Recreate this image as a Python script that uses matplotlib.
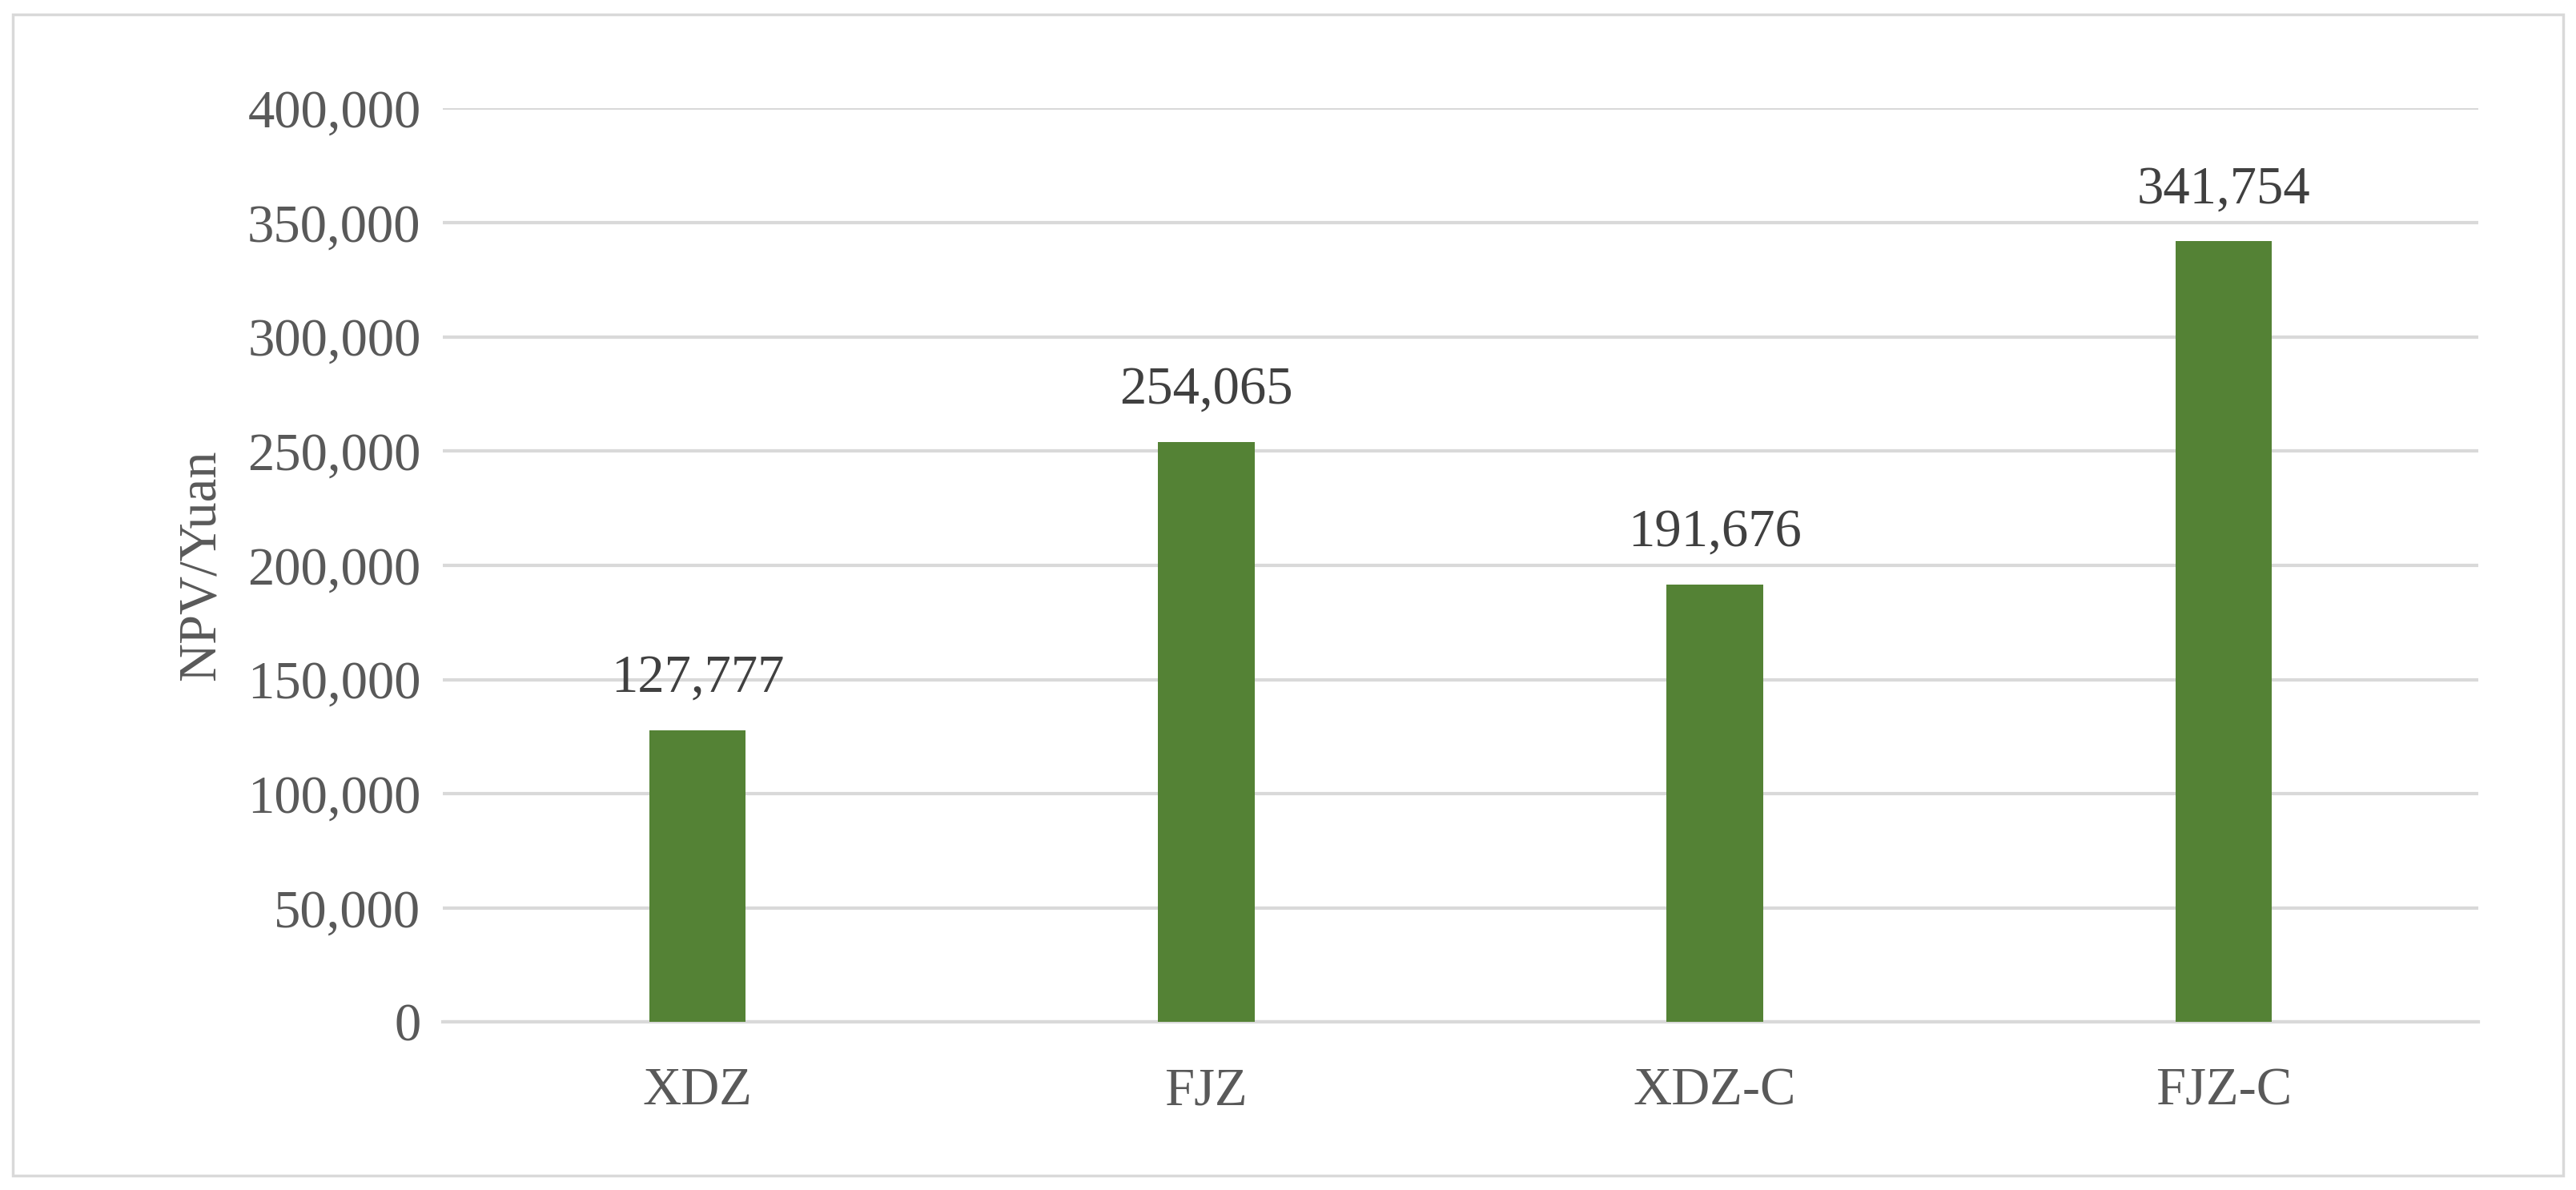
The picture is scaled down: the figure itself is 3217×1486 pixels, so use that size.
import matplotlib.pyplot as plt
from matplotlib.patches import Rectangle
from matplotlib.ticker import FuncFormatter

categories = ["XDZ", "FJZ", "XDZ-C", "FJZ-C"]
npv = [127777, 254065, 191676, 341754]

plt.rcParams["font.family"] = ["Liberation Serif", "DejaVu Serif"]

fig = plt.figure(figsize=(32.17, 14.86), dpi=100)
ax = fig.add_axes([0.172, 0.141, 0.79, 0.768])

fig.patches.append(Rectangle((0.005, 0.012), 0.99, 0.976, transform=fig.transFigure,
                             fill=False, edgecolor="#d9d9d9", linewidth=2.5))

x = range(len(categories))
ax.bar(x, npv, width=0.19, color="#548235", zorder=3)
for xi, v in zip(x, npv):
    ax.text(xi, v + 12000, f"{v:,}", ha="center", va="bottom", fontsize=48, color="#404040")

ax.set_ylim(0, 400000)
ax.set_xlim(-0.5, 3.5)
ax.set_yticks(range(0, 400001, 50000))
ax.yaxis.set_major_formatter(FuncFormatter(lambda v, p: f"{int(v):,}"))
ax.set_xticks(list(x))
ax.set_xticklabels(categories)
ax.tick_params(axis="both", length=0, labelsize=48, labelcolor="#595959", pad=20)
ax.tick_params(axis="x", pad=40)
ax.grid(axis="y", color="#d9d9d9", linewidth=3, zorder=0)
for s in ["top", "right", "left"]:
    ax.spines[s].set_visible(False)
ax.spines["bottom"].set_color("#d9d9d9")
ax.spines["bottom"].set_linewidth(3)
ax.set_ylabel("NPV/Yuan", fontsize=48, color="#595959", labelpad=20)

fig.savefig("out.png", dpi=100)
